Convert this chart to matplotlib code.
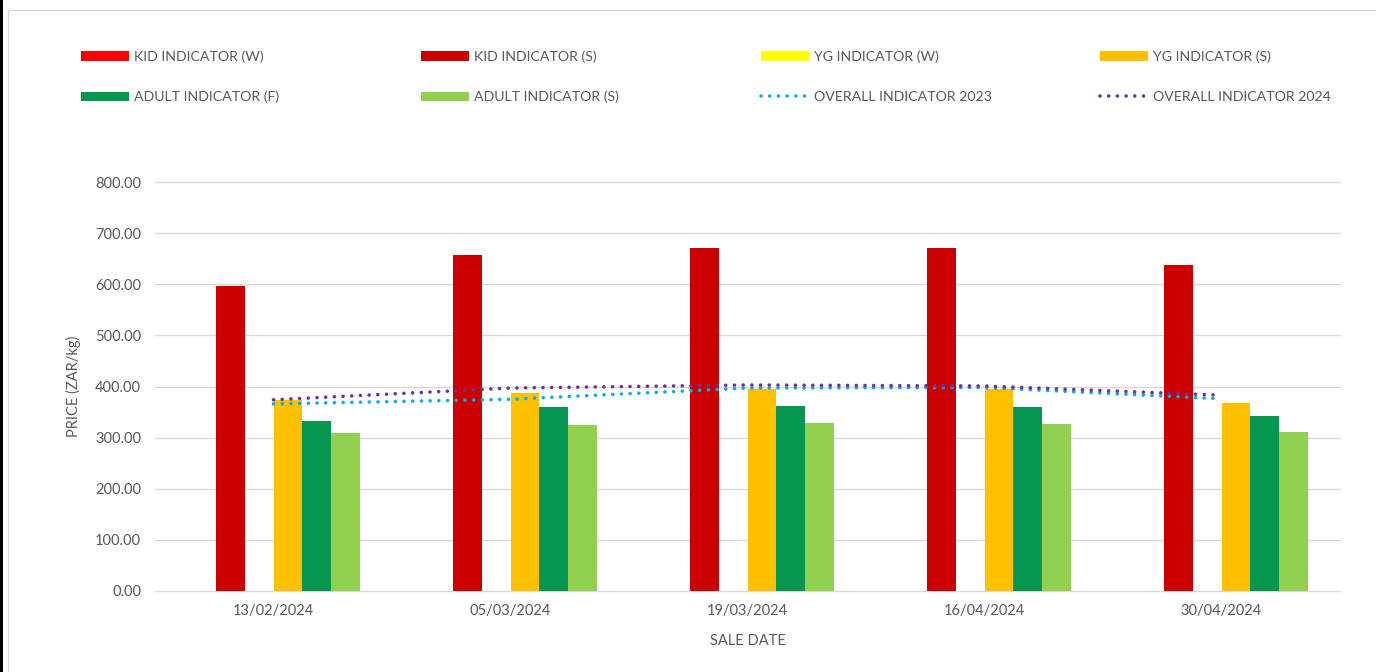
import matplotlib.pyplot as plt
from matplotlib.patches import Patch, Rectangle
from matplotlib.lines import Line2D

plt.rcParams['font.family'] = ['Lato', 'DejaVu Sans']

# Data
sale_dates = ['13/02/2024', '05/03/2024', '19/03/2024', '16/04/2024', '30/04/2024']
kid_w = [0, 0, 0, 0, 0]
kid_s = [597, 657, 671, 671, 638]
yg_w = [0, 0, 0, 0, 0]
yg_s = [374, 388, 395, 395, 368]
adult_f = [333, 360, 362, 360, 342]
adult_s = [309, 325, 328, 327, 311]
overall_2023 = [366, 375, 397, 398, 376]
overall_2024 = [374, 397, 403, 401, 383]

bar_series = [
    ('KID INDICATOR (W)', kid_w, '#FF0000'),
    ('KID INDICATOR (S)', kid_s, '#CC0000'),
    ('YG INDICATOR (W)', yg_w, '#FFFF00'),
    ('YG INDICATOR (S)', yg_s, '#FFC000'),
    ('ADULT INDICATOR (F)', adult_f, '#05974F'),
    ('ADULT INDICATOR (S)', adult_s, '#92D050'),
]
line_series = [
    ('OVERALL INDICATOR 2023', overall_2023, '#00B0F0'),
    ('OVERALL INDICATOR 2024', overall_2024, '#7030A0'),
]

text_color = '#595959'
grid_color = '#D9D9D9'
dot_style = (0, (0.01, 2.4))

fig = plt.figure(figsize=(13.76, 6.72), dpi=100)
ax = fig.add_axes([155 / 1376, 1 - 591 / 672, 1185 / 1376, 409 / 672])

bar_width = 0.122
index = range(len(sale_dates))
handles = {}
for i, (name, vals, color) in enumerate(bar_series):
    xs = [x + (i - 2.5) * bar_width for x in index]
    ax.bar(xs, vals, bar_width, color=color, zorder=2)
    handles[name] = Patch(facecolor=color)

for name, vals, color in line_series:
    ax.plot(list(index), vals, color=color, lw=2.6, linestyle=dot_style,
            dash_capstyle='round', zorder=3)
    handles[name] = Line2D([], [], color=color, lw=2.6, linestyle=dot_style,
                           dash_capstyle='round')

ax.set_xlim(-0.5, 4.5)
ax.set_ylim(0, 800)
ax.set_yticks(range(0, 801, 100))
ax.set_yticklabels(['%.2f' % v for v in range(0, 801, 100)])
ax.set_xticks(list(index))
ax.set_xticklabels(sale_dates)
ax.tick_params(length=0, labelsize=10.5, colors=text_color)
ax.tick_params(axis='y', pad=10)
ax.tick_params(axis='x', pad=9)
ax.yaxis.grid(True, color=grid_color, lw=1)
for gl in ax.get_ygridlines():
    gl.set_clip_on(False)
ax.set_axisbelow(True)
for s in ax.spines.values():
    s.set_visible(False)

ax.set_ylabel('PRICE (ZAR/kg)', color=text_color, fontsize=10.5, labelpad=10)
ax.set_xlabel('SALE DATE', color=text_color, fontsize=10.5, labelpad=12)

# legend: four columns, two rows
columns = [
    ['KID INDICATOR (W)', 'ADULT INDICATOR (F)'],
    ['KID INDICATOR (S)', 'ADULT INDICATOR (S)'],
    ['YG INDICATOR (W)', 'OVERALL INDICATOR 2023'],
    ['YG INDICATOR (S)', 'OVERALL INDICATOR 2024'],
]
col_x = [81, 421, 761, 1100]
for cx, names in zip(col_x, columns):
    fig.legend([handles[n] for n in names], names, loc='upper left',
               bbox_to_anchor=(cx / 1376, 1 - 50 / 672), frameon=False,
               fontsize=10.2, labelcolor=text_color, handlelength=3.4,
               handleheight=0.7, handletextpad=0.35, labelspacing=2.0,
               borderaxespad=0, borderpad=0)

# chart frame
fig.patches.append(Rectangle((8 / 1376, -0.01), 1.1, 1 - 9.5 / 672 + 0.01,
                             transform=fig.transFigure, fill=False,
                             edgecolor='#D9D9D9', lw=1))
fig.patches.append(Rectangle((0, 0), 2.5 / 1376, 1, transform=fig.transFigure,
                             facecolor='black', edgecolor='none'))

fig.savefig('out.png', dpi=100)
